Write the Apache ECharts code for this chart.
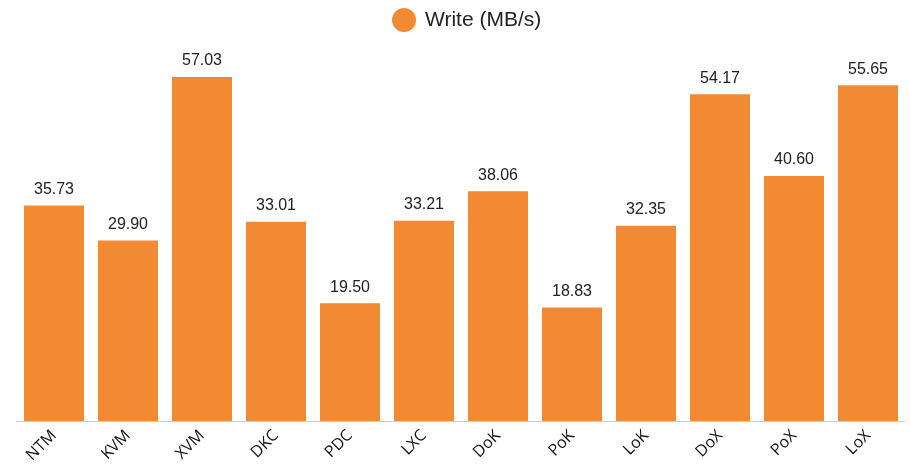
<!DOCTYPE html>
<html><head><meta charset="utf-8">
<script src="https://cdn.jsdelivr.net/npm/echarts@6/dist/echarts.min.js"></script>
<style>html,body{margin:0;padding:0;background:#fff}#c{width:910px;height:469px}</style>
</head><body><div id="c"></div>
<script>
var categories = ["NTM","KVM","XVM","DKC","PDC","LXC","DoK","PoK","LoK","DoX","PoX","LoX"];
var writeValues = [35.73,29.90,57.03,33.01,19.50,33.21,38.06,18.83,32.35,54.17,40.60,55.65];
var seriesName = "Write (MB/s)";
var chart = echarts.init(document.getElementById('c'));
chart.setOption({
  animation:false,
  legend:{top:3,left:387,icon:'circle',itemWidth:24,itemHeight:24,itemGap:10,
    textStyle:{fontFamily:'Liberation Sans',fontSize:21,color:'#222',padding:[0,0,0,4]},data:[seriesName]},
  grid:{left:17,right:5,top:59,bottom:48,containLabel:false},
  xAxis:{type:'category',data:categories,
    axisLine:{lineStyle:{color:'#ccc'}},axisTick:{show:false},
    axisLabel:{rotate:45,interval:0,fontFamily:'Open Sans',fontSize:16,color:'#111',margin:12}},
  yAxis:{type:'value',min:0,max:60,show:false,splitLine:{show:false}},
  series:[{name:seriesName,type:'bar',data:writeValues,barWidth:60,
    itemStyle:{color:'#F28A33'},
    label:{show:true,position:'top',distance:8,fontFamily:'Liberation Sans',fontSize:16,color:'#222',
      formatter:function(p){return p.value.toFixed(2);}}}]
});
</script></body></html>
